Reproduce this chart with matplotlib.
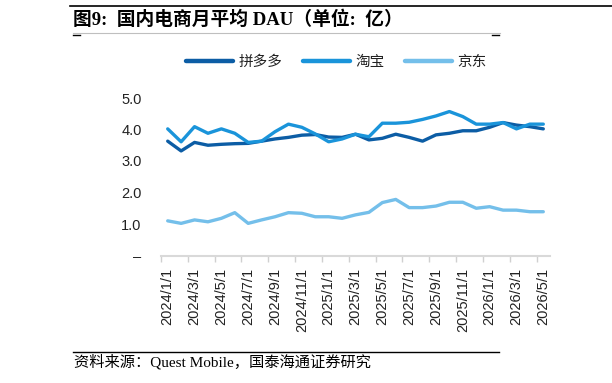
import matplotlib
matplotlib.use("Agg")
import matplotlib.pyplot as plt
from matplotlib.lines import Line2D

# monthly dates 2024/1 .. 2026/5
months = []
for y in (2024, 2025, 2026):
    for m in range(1, 13):
        if y == 2026 and m > 5:
            break
        months.append(f"{y}/{m}/1")

# 月平均 DAU（亿）
pdd = [3.63, 3.32, 3.59, 3.50, 3.53, 3.55, 3.56, 3.63, 3.70, 3.75,
       3.82, 3.84, 3.76, 3.75, 3.85, 3.67, 3.72, 3.85, 3.75, 3.63,
       3.83, 3.88, 3.96, 3.96, 4.07, 4.22, 4.14, 4.09, 4.02]
taobao = [4.02, 3.61, 4.09, 3.88, 4.02, 3.88, 3.59, 3.63, 3.93, 4.17,
          4.07, 3.86, 3.61, 3.70, 3.85, 3.77, 4.20, 4.20, 4.23, 4.32,
          4.43, 4.57, 4.41, 4.17, 4.17, 4.22, 4.02, 4.17, 4.17]
jd = [1.10, 1.02, 1.13, 1.07, 1.18, 1.36, 1.02, 1.13, 1.23, 1.36,
      1.34, 1.23, 1.23, 1.18, 1.29, 1.37, 1.68, 1.78, 1.52, 1.52,
      1.57, 1.69, 1.69, 1.50, 1.55, 1.44, 1.44, 1.39, 1.39]

series = [("拼多多", pdd, "#0C5DA5"), ("淘宝", taobao, "#1A94DA"), ("京东", jd, "#74BFEA")]
yticks = [0, 1, 2, 3, 4, 5]
ytick_labels = ["–", "1.0", "2.0", "3.0", "4.0", "5.0"]

cjk_serif = ["Liberation Serif", "Noto Sans CJK SC"]
cjk_sans = ["Noto Sans CJK SC", "DejaVu Sans"]

fig = plt.figure(figsize=(6.12, 3.83), dpi=100)
ax = fig.add_axes([161 / 612, 1 - 255.5 / 383, 389 / 612, (255.5 - 98) / 383])

x = list(range(len(months)))
for name, vals, color in series:
    ax.plot(x, vals, color=color, lw=2.4, solid_capstyle="round",
            solid_joinstyle="round", label=name)

ax.set_xlim(-0.5, len(months) - 0.5)
ax.set_ylim(0, 5)

# category labels every 2 months, ticks on category boundaries
ax.set_xticks(x[::2])
ax.set_xticklabels(months[::2], rotation=90, fontsize=10.5,
                   family="Liberation Sans", color="#222222")
ax.tick_params(axis="x", which="major", length=0, pad=9)
ax.set_xticks([i - 0.5 for i in range(0, len(months), 2)], minor=True)
ax.tick_params(axis="x", which="minor", length=4, color="#d0d0d0", width=1)

ax.set_yticks(yticks)
ax.set_yticklabels(ytick_labels, fontsize=10.5, family="Liberation Sans", color="#222222")
ax.tick_params(axis="y", length=0, pad=14)

for s in ("top", "right", "left"):
    ax.spines[s].set_visible(False)
ax.spines["bottom"].set_color("#d9d9d9")
ax.spines["bottom"].set_linewidth(1.5)

handles = [Line2D([], [], color=c, lw=3.2, solid_capstyle="round") for _, _, c in series]
leg = fig.legend(handles, [n for n, _, _ in series], loc="center",
                 bbox_to_anchor=(0.55, 1 - 62 / 383), ncol=3, frameon=False,
                 handlelength=3.2, columnspacing=1.4, handletextpad=0.4,
                 prop={"family": cjk_sans, "size": 10.5})
for t in leg.get_texts():
    t.set_color("#222222")

# title block
fig.add_artist(Line2D([70 / 612, 1.0], [1 - 5.5 / 383] * 2, color="black", lw=1.2))
fig.text(73 / 612, 1 - 20 / 383, "图9:  国内电商月平均 DAU（单位:  亿）",
         fontsize=13.5, fontweight="bold", family=cjk_serif, va="center", ha="left")
fig.add_artist(Line2D([73 / 612, 500 / 612], [1 - 33 / 383] * 2, color="#bfbfbf", lw=0.8))
fig.add_artist(Line2D([73 / 612, 80 / 612], [1 - 35 / 383] * 2, color="black", lw=1))
fig.add_artist(Line2D([492 / 612, 499 / 612], [1 - 35 / 383] * 2, color="black", lw=1))

# source block
fig.add_artist(Line2D([73 / 612, 499 / 612], [1 - 351.5 / 383] * 2, color="black", lw=1))
fig.text(74 / 612, 1 - 362 / 383, "资料来源：Quest Mobile，国泰海通证券研究",
         fontsize=11, family=cjk_serif, va="center", ha="left")

fig.savefig("out.png", dpi=100)
